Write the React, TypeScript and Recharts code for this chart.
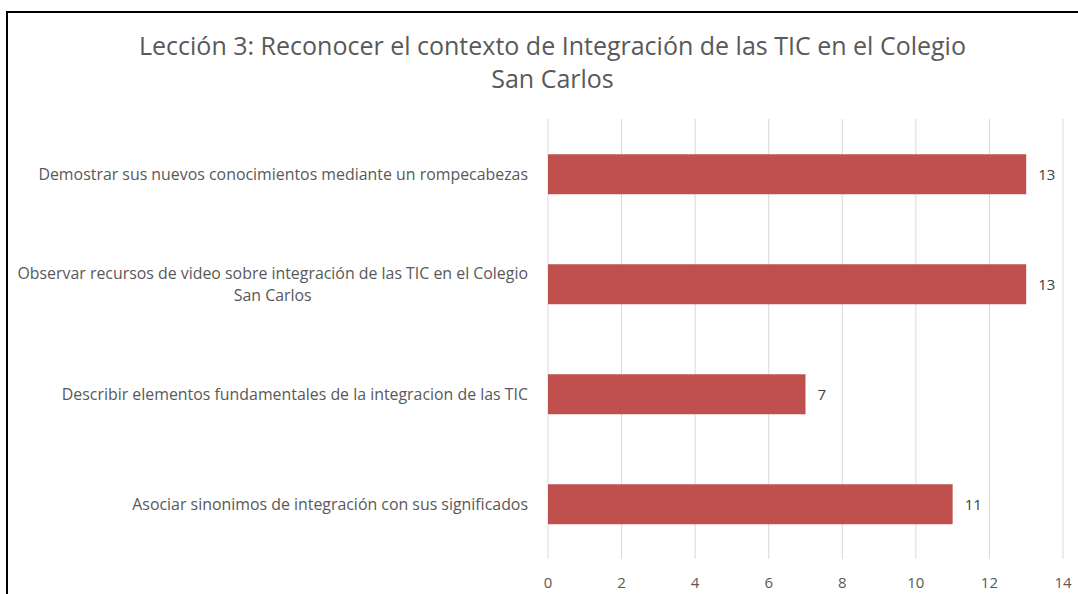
import React from "react";
import { BarChart, Bar, XAxis, YAxis, CartesianGrid, LabelList } from "recharts";

const titleLines = [
  "Lección 3: Reconocer el contexto de Integración de las TIC en el Colegio",
  "San Carlos",
];
const categories = [
  "Demostrar sus nuevos conocimientos mediante un rompecabezas",
  "Observar recursos de video sobre integración de las TIC en el Colegio\nSan Carlos",
  "Describir elementos fundamentales de la integracion de las TIC",
  "Asociar sinonimos de integración con sus significados",
];
const values = [13, 13, 7, 11];
const xTicks = [0, 2, 4, 6, 8, 10, 12, 14];

const data = categories.map((c, i) => ({ name: c, value: values[i] }));

const FONT = "'Open Sans', 'Noto Sans', sans-serif";

const YTick = (props: any) => {
  const { x, y, payload } = props;
  const w = 540;
  const h = 70;
  return (
    <foreignObject x={x - w - 12} y={y - h / 2} width={w} height={h}>
      <div
        style={{
          width: w,
          height: h,
          display: "flex",
          alignItems: "center",
          justifyContent: "flex-end",
          fontFamily: FONT,
          fontSize: 15.9,
          color: "#595959",
        }}
      >
        <span style={{ whiteSpace: "pre-line", textAlign: "center", lineHeight: "22px" }}>
          {payload.value}
        </span>
      </div>
    </foreignObject>
  );
};

export default function App() {
  return (
    <div
      style={{
        position: "absolute",
        left: 0,
        top: 0,
        width: 1078,
        height: 594,
        background: "#fff",
        overflow: "hidden",
      }}
    >
      <div
        style={{
          position: "absolute",
          left: 6,
          top: 11,
          width: 1100,
          height: 600,
          borderTop: "2px solid #000",
          borderLeft: "2px solid #000",
        }}
      />
      <div
        style={{
          position: "absolute",
          left: 0,
          top: 29,
          width: 1105,
          textAlign: "center",
          fontFamily: FONT,
          fontSize: 25,
          lineHeight: "33px",
          color: "#595959",
        }}
      >
        {titleLines.map((t, i) => (
          <div key={i}>{t}</div>
        ))}
      </div>
      <div style={{ position: "absolute", left: 0, top: 0 }}>
        <BarChart
          width={1078}
          height={594}
          data={data}
          layout="vertical"
          margin={{ top: 119, right: 15, bottom: 5, left: 0 }}
          barCategoryGap="32%"
        >
          <CartesianGrid horizontal={false} stroke="#D9D9D9" strokeWidth={1} />
          <XAxis
            type="number"
            domain={[0, 14]}
            ticks={xTicks}
            axisLine={false}
            tickLine={false}
            tickMargin={12}
            height={30}
            tick={{ fill: "#595959", fontSize: 15, fontFamily: FONT }}
            interval={0}
          />
          <YAxis
            type="category"
            dataKey="name"
            width={548}
            axisLine={false}
            tickLine={false}
            tick={<YTick />}
            interval={0}
          />
          <Bar dataKey="value" fill="#C0504D" isAnimationActive={false}>
            <LabelList
              dataKey="value"
              position="right"
              offset={12}
              fill="#404040"
              fontSize={15}
              fontFamily={FONT}
            />
          </Bar>
        </BarChart>
      </div>
    </div>
  );
}
